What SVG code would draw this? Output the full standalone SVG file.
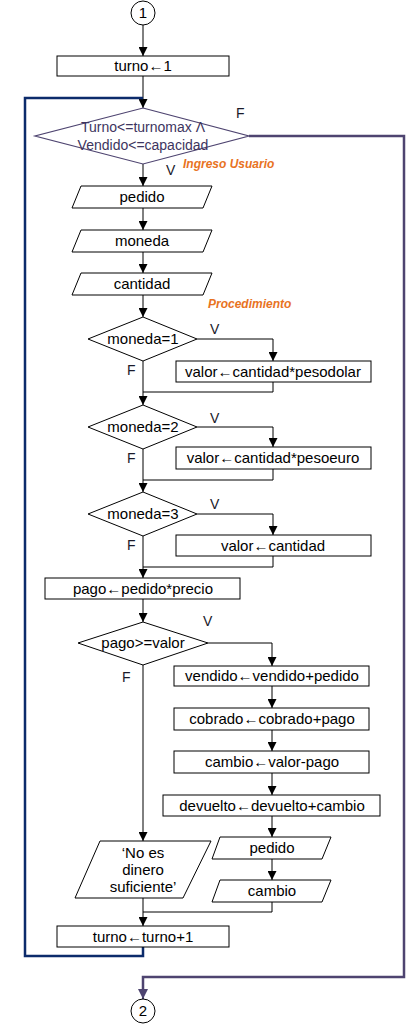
<svg xmlns="http://www.w3.org/2000/svg" width="420" height="1027" viewBox="0 0 420 1027">
<style>
.s{fill:#fff;stroke:#000;stroke-width:1}
.t{font-family:"Liberation Sans",Arial,sans-serif;font-size:15px;fill:#000;text-anchor:middle}
.l{font-family:"Liberation Sans",Arial,sans-serif;font-size:14px;fill:#1a1a2a}
.o{font-family:"Liberation Sans",Arial,sans-serif;font-size:12px;font-weight:bold;font-style:italic;fill:#e8731f}
.c{fill:none;stroke:#000;stroke-width:1}
</style>
<defs>
<marker id="ah" viewBox="0 0 10 10" refX="10" refY="5" markerWidth="9" markerHeight="9" markerUnits="userSpaceOnUse" orient="auto"><path d="M0,0 L10,5 L0,10 z" fill="#000"/></marker>
<marker id="ap" viewBox="0 0 10 10" refX="10" refY="5" markerWidth="10" markerHeight="10" markerUnits="userSpaceOnUse" orient="auto"><path d="M0,0 L10,5 L0,10 z" fill="#4e4470"/></marker>
</defs>
<rect width="420" height="1027" fill="#fff"/>
<g id="connectors">
<path class="c" d="M143,25 V56" marker-end="url(#ah)"/>
<path class="c" d="M143,76 V108" marker-end="url(#ah)"/>
<path fill="none" stroke="#0c2b6b" stroke-width="2.5" d="M143,947 V956 H25 V98 H143"/>
<path fill="none" stroke="#4e4470" stroke-width="2.5" d="M249,136 H404 V977 H143 V990"/>
<path fill="none" stroke="#4e4470" stroke-width="2" d="M143,988 V999" marker-end="url(#ap)"/>
<path class="c" d="M143,164 V186" marker-end="url(#ah)"/>
<path class="c" d="M143,208 V230" marker-end="url(#ah)"/>
<path class="c" d="M143,252 V273" marker-end="url(#ah)"/>
<path class="c" d="M143,295 V317" marker-end="url(#ah)"/>
<path class="c" d="M197,339 H273 V361" marker-end="url(#ah)"/>
<path class="c" d="M143,361 V405" marker-end="url(#ah)"/>
<path class="c" d="M273,382 V392 H143"/>
<path class="c" d="M197,427 H273 V447" marker-end="url(#ah)"/>
<path class="c" d="M143,449 V492" marker-end="url(#ah)"/>
<path class="c" d="M273,469 V480 H143"/>
<path class="c" d="M197,514 H273 V535" marker-end="url(#ah)"/>
<path class="c" d="M143,536 V578" marker-end="url(#ah)"/>
<path class="c" d="M273,556 V567 H143"/>
<path class="c" d="M143,599 V622" marker-end="url(#ah)"/>
<path class="c" d="M208,643 H272 V666" marker-end="url(#ah)"/>
<path class="c" d="M143,665 V841" marker-end="url(#ah)"/>
<path class="c" d="M272,686 V708" marker-end="url(#ah)"/>
<path class="c" d="M272,730 V751" marker-end="url(#ah)"/>
<path class="c" d="M272,773 V795" marker-end="url(#ah)"/>
<path class="c" d="M272,816 V837" marker-end="url(#ah)"/>
<path class="c" d="M272,859 V880" marker-end="url(#ah)"/>
<path class="c" d="M272,902 V912 H143"/>
<path class="c" d="M143,898 V926" marker-end="url(#ah)"/>
<text class="l" x="236" y="118">F</text>
<text class="l" x="166" y="175">V</text>
<text class="o" x="183" y="168">Ingreso Usuario</text>
<text class="o" x="208" y="308">Procedimiento</text>
<text class="l" x="210" y="334">V</text>
<text class="l" x="127" y="375">F</text>
<text class="l" x="210" y="423">V</text>
<text class="l" x="127" y="463">F</text>
<text class="l" x="210" y="509">V</text>
<text class="l" x="127" y="550">F</text>
<text class="l" x="203" y="626">V</text>
<text class="l" x="122" y="682">F</text>
</g>
<g id="start"><circle class="s" cx="143" cy="13" r="12"/><text class="t" x="143" y="18">1</text></g>
<g id="init"><rect class="s" x="57" y="56" width="172" height="20"/><text class="t" x="143" y="71">turno←1</text></g>
<g id="loop"><polygon fill="#fff" stroke="#4e4470" stroke-width="1.2" points="143,108 249,136 143,164 35,136"/>
<text class="t" x="143" y="132" style="font-size:14px;fill:#3d3560">Turno&lt;=turnomax Λ</text>
<text class="t" x="143" y="150" style="font-size:14px;fill:#3d3560">Vendido&lt;=capacidad</text></g>
<g id="in-pedido"><polygon class="s" points="81,186 212,186 203,208 72,208"/><text class="t" x="142" y="202">pedido</text></g>
<g id="in-moneda"><polygon class="s" points="81,230 212,230 203,252 72,252"/><text class="t" x="142" y="246">moneda</text></g>
<g id="in-cantidad"><polygon class="s" points="81,273 212,273 203,295 72,295"/><text class="t" x="142" y="289">cantidad</text></g>
<g id="d1"><polygon class="s" points="143,317 197,339 143,361 88,339"/><text class="t" x="143" y="344">moneda=1</text></g>
<g id="p1"><rect class="s" x="176" y="361" width="195" height="21"/><text class="t" x="273" y="377">valor←cantidad*pesodolar</text></g>
<g id="d2"><polygon class="s" points="143,405 197,427 143,449 88,427"/><text class="t" x="143" y="432">moneda=2</text></g>
<g id="p2"><rect class="s" x="176" y="447" width="195" height="22"/><text class="t" x="273" y="463">valor←cantidad*pesoeuro</text></g>
<g id="d3"><polygon class="s" points="143,492 197,514 143,536 88,514"/><text class="t" x="143" y="519">moneda=3</text></g>
<g id="p3"><rect class="s" x="176" y="535" width="195" height="21"/><text class="t" x="273" y="551">valor←cantidad</text></g>
<g id="pago"><rect class="s" x="45" y="578" width="195" height="21"/><text class="t" x="143" y="594">pago←pedido*precio</text></g>
<g id="d4"><polygon class="s" points="143,622 208,643 143,665 78,643"/><text class="t" x="143" y="648">pago&gt;=valor</text></g>
<g id="vendido"><rect class="s" x="174" y="666" width="195" height="20"/><text class="t" x="272" y="681">vendido←vendido+pedido</text></g>
<g id="cobrado"><rect class="s" x="174" y="708" width="195" height="22"/><text class="t" x="272" y="724">cobrado←cobrado+pago</text></g>
<g id="cambio"><rect class="s" x="174" y="751" width="195" height="22"/><text class="t" x="272" y="767">cambio←valor-pago</text></g>
<g id="devuelto"><rect class="s" x="163" y="795" width="217" height="21"/><text class="t" x="272" y="811">devuelto←devuelto+cambio</text></g>
<g id="out-pedido"><polygon class="s" points="220,837 331,837 322,859 212,859"/><text class="t" x="272" y="853">pedido</text></g>
<g id="out-cambio"><polygon class="s" points="220,880 331,880 322,902 212,902"/><text class="t" x="272" y="896">cambio</text></g>
<g id="out-msg"><polygon class="s" points="100,841 211,841 183,898 75,898"/>
<text class="t" x="143" y="858">‘No es</text><text class="t" x="143" y="875">dinero</text><text class="t" x="143" y="892">suficiente’</text></g>
<g id="inc"><rect class="s" x="57" y="926" width="172" height="21"/><text class="t" x="143" y="942">turno←turno+1</text></g>
<g id="end"><circle class="s" cx="143" cy="1011" r="12"/><text class="t" x="143" y="1016">2</text></g>
</svg>
